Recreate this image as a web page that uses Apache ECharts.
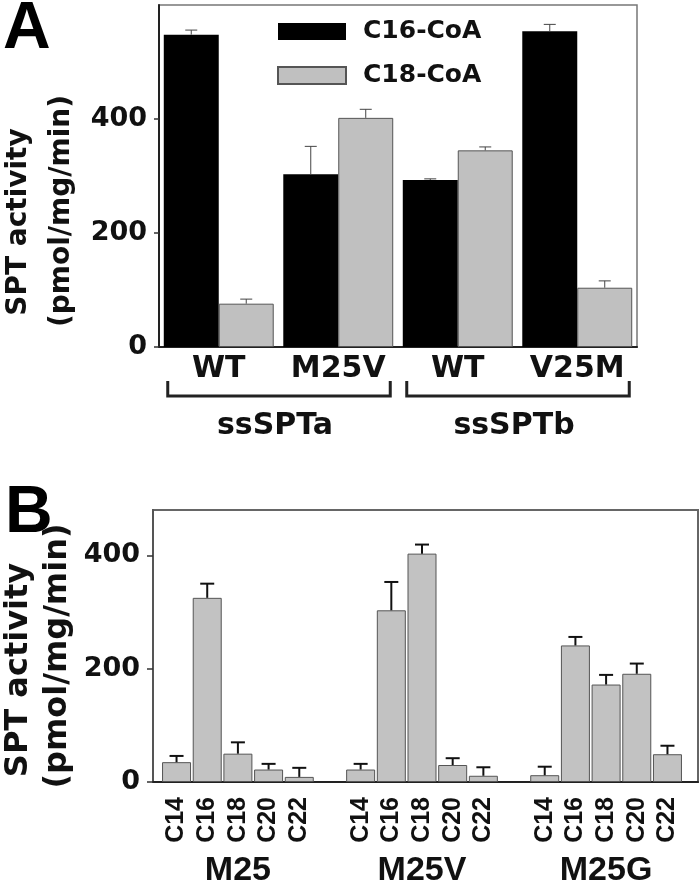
<!DOCTYPE html>
<html>
<head>
<meta charset="utf-8">
<script src="https://cdn.jsdelivr.net/npm/echarts@6/dist/echarts.min.js"></script>
<style>
html,body{margin:0;padding:0;background:#fff;}
#chart{width:700px;height:884px;}
</style>
</head>
<body>
<div id="chart"></div>
<script>
// ---------- Panel A data ----------
const catsA = ['WT', 'M25V', 'WT', 'V25M'];
const groupsA = ['ssSPTa', 'ssSPTb'];
const c16 = [548, 303, 293, 554];
const c16Err = [8, 49, 2, 12];
const c18 = [76, 402, 345, 104];
const c18Err = [8, 15, 6, 12];
const ticksA = [0, 200, 400];
const seriesNamesA = ['C16-CoA', 'C18-CoA'];

// ---------- Panel B data ----------
const chainsB = ['C14', 'C16', 'C18', 'C20', 'C22'];
const groupsB = ['M25', 'M25V', 'M25G'];
const m25 = [35, 325, 50, 22, 9];
const m25Err = [11, 25, 20, 10, 16];
const m25v = [22, 303, 403, 30, 11];
const m25vErr = [10, 50, 16, 12, 15];
const m25g = [12, 241, 172, 191, 49];
const m25gErr = [15, 15, 17, 18, 15];
const ticksB = [0, 200, 400];

const FONT = "'DejaVu Sans', sans-serif";
const FONT2 = "'Liberation Sans', Arial, sans-serif";

// build panel B category list / values (with empty slot between groups)
const valsB = [m25, m25v, m25g];
const errsB = [m25Err, m25vErr, m25gErr];
const catsB = [];
const barB = [];
const errB = [];
const groupMidIdx = [];
valsB.forEach((arr, g) => {
  if (g > 0) { catsB.push(''); barB.push('-'); }
  arr.forEach((v, k) => {
    const idx = catsB.length;
    if (k === 2) groupMidIdx.push(idx);
    catsB.push(chainsB[k]);
    barB.push(v);
    errB.push([idx, v, errsB[g][k]]);
  });
});

const errA = [];
c16.forEach((v, i) => errA.push([i, v, c16Err[i], -1]));
c18.forEach((v, i) => errA.push([i, v, c18Err[i], 1]));

const GAP_A = 0.08;

const chart = echarts.init(document.getElementById('chart'), null, {renderer: 'canvas'});

const option = {
  animation: false,
  backgroundColor: '#fff',
  legend: {
    data: seriesNamesA,
    orient: 'vertical',
    left: 277, top: 19,
    itemWidth: 68, itemHeight: 17, itemGap: 19,
    icon: 'rect',
    padding: 0,
    selectedMode: false,
    textStyle: {fontFamily: FONT, fontWeight: 'bold', fontSize: 25, color: '#111', padding: [0, 0, 0, 12]}
  },
  grid: [
    {left: 159, top: 5, width: 478, height: 342, show: true, borderColor: '#777', borderWidth: 1.5, backgroundColor: 'transparent'},
    {left: 153, top: 510, width: 545, height: 272, show: true, borderColor: '#666', borderWidth: 2, backgroundColor: 'transparent'},
    {left: 161.2, top: 510, width: 521.6, height: 272}
  ],
  xAxis: [
    {type: 'category', gridIndex: 0, data: catsA,
     axisLine: {lineStyle: {color: '#222', width: 2}}, axisTick: {show: false},
     axisLabel: {fontFamily: FONT, fontWeight: 'bold', fontSize: 30, color: '#111', margin: 7, interval: 0}},
    {type: 'value', gridIndex: 1, min: 0, max: 1,
     axisLine: {show: true, lineStyle: {color: '#222', width: 2}}, axisTick: {show: false},
     axisLabel: {show: false}, splitLine: {show: false}},
    {type: 'category', gridIndex: 2, data: catsB,
     axisLine: {show: false}, axisTick: {show: false},
     axisLabel: {rotate: 90, interval: 0, margin: 15, fontFamily: FONT2, fontWeight: 'bold', fontSize: 25, color: '#111'}}
  ],
  yAxis: [
    {type: 'value', gridIndex: 0, min: 0, max: 600,
     axisLine: {show: true, lineStyle: {color: '#222', width: 2}},
     axisTick: {show: true, length: 5, customValues: ticksA, lineStyle: {color: '#333', width: 1.5}},
     axisLabel: {customValues: ticksA, fontFamily: FONT, fontWeight: 'bold', fontSize: 27, color: '#111', margin: 12},
     splitLine: {show: false}},
    {type: 'value', gridIndex: 1, min: 0, max: 480,
     axisLine: {show: true, lineStyle: {color: '#555', width: 2}},
     axisTick: {show: true, length: 6, customValues: ticksB, lineStyle: {color: '#333', width: 1.5}},
     axisLabel: {customValues: ticksB, fontFamily: FONT, fontWeight: 'bold', fontSize: 27, color: '#111', margin: 13},
     splitLine: {show: false}},
    {type: 'value', gridIndex: 2, min: 0, max: 480, show: false, splitLine: {show: false}}
  ],
  series: [
    {name: seriesNamesA[0], type: 'bar', xAxisIndex: 0, yAxisIndex: 0, data: c16,
     barGap: '0%', barCategoryGap: (GAP_A * 100) + '%',
     itemStyle: {color: '#000', borderColor: '#000', borderWidth: 0}},
    {name: seriesNamesA[1], type: 'bar', xAxisIndex: 0, yAxisIndex: 0, data: c18,
     barGap: '0%', barCategoryGap: (GAP_A * 100) + '%',
     itemStyle: {color: '#c0c0c0', borderColor: '#555', borderWidth: 1}},
    {name: 'errA', type: 'custom', xAxisIndex: 0, yAxisIndex: 0, data: errA, z: 5,
     encode: {x: 0, y: 1},
     renderItem: function (params, api) {
       const i = api.value(0), v = api.value(1), e = api.value(2), side = api.value(3);
       const catW = api.size([1, 0])[0];
       const barW = catW * (1 - GAP_A) / 2;
       const base = api.coord([i, v]);
       const top = api.coord([i, v + e]);
       const x = base[0] + side * barW / 2;
       return {type: 'group', children: [
         {type: 'line', shape: {x1: x, y1: base[1], x2: x, y2: top[1]}, style: {stroke: '#444', lineWidth: 1}},
         {type: 'line', shape: {x1: x - 6, y1: top[1], x2: x + 6, y2: top[1]}, style: {stroke: '#444', lineWidth: 1}}
       ]};
     }},
    {name: 'barsB', type: 'bar', xAxisIndex: 2, yAxisIndex: 2, data: barB, barWidth: 29,
     itemStyle: {color: '#c2c2c2', borderColor: '#555', borderWidth: 1}},
    {name: 'errB', type: 'custom', xAxisIndex: 2, yAxisIndex: 2, data: errB, z: 5,
     encode: {x: 0, y: 1},
     renderItem: function (params, api) {
       const i = api.value(0), v = api.value(1), e = api.value(2);
       const base = api.coord([i, v]);
       const top = api.coord([i, v + e]);
       const x = base[0];
       return {type: 'group', children: [
         {type: 'line', shape: {x1: x, y1: base[1], x2: x, y2: top[1]}, style: {stroke: '#111', lineWidth: 2}},
         {type: 'line', shape: {x1: x - 7, y1: top[1], x2: x + 7, y2: top[1]}, style: {stroke: '#111', lineWidth: 2}}
       ]};
     }}
  ]
};
chart.setOption(option);

// ---------- annotations (brackets, group labels, titles) ----------
const px = (axisIdx, i) => chart.convertToPixel({xAxisIndex: axisIdx}, i);
const graphics = [];
// panel letters
graphics.push({type: 'text', x: 3, y: 63, style: {text: 'A', font: "bold 66px " + FONT2, fill: '#000', textAlign: 'left', textVerticalAlign: 'bottom'}});
graphics.push({type: 'text', x: 5, y: 547, style: {text: 'B', font: "bold 66px " + FONT2, fill: '#000', textAlign: 'left', textVerticalAlign: 'bottom'}});
// y axis titles
const yTitles = [
  {x: 19, y: 222, t: 'SPT activity', fs: 28},
  {x: 62, y: 211, t: '(pmol/mg/min)', fs: 28},
  {x: 19, y: 670, t: 'SPT activity', fs: 32},
  {x: 58, y: 656, t: '(pmol/mg/min)', fs: 32}
];
yTitles.forEach(o => graphics.push({type: 'text', x: o.x, y: o.y, rotation: Math.PI / 2,
  style: {text: o.t, font: 'bold ' + o.fs + 'px ' + FONT, fill: '#111', textAlign: 'center', textVerticalAlign: 'middle'}}));
// brackets for panel A
groupsA.forEach((g, k) => {
  const x0 = px(0, 2 * k) - 51;
  const x1 = px(0, 2 * k + 1) + 52;
  graphics.push({type: 'polyline', shape: {points: [[x0, 381], [x0, 396], [x1, 396], [x1, 381]]},
    style: {stroke: '#222', lineWidth: 3, fill: null}});
  graphics.push({type: 'text', x: (x0 + x1) / 2 - 4, y: 441,
    style: {text: g, font: 'bold 30px ' + FONT, fill: '#111', textAlign: 'center', textVerticalAlign: 'bottom'}});
});
// group labels panel B
groupsB.forEach((g, k) => {
  const cx = px(2, groupMidIdx[k]);
  graphics.push({type: 'text', x: cx, y: 888,
    style: {text: g, font: 'bold 34px ' + FONT2, fill: '#111', textAlign: 'center', textVerticalAlign: 'bottom'}});
});
chart.setOption({graphic: graphics});
</script>
</body>
</html>
